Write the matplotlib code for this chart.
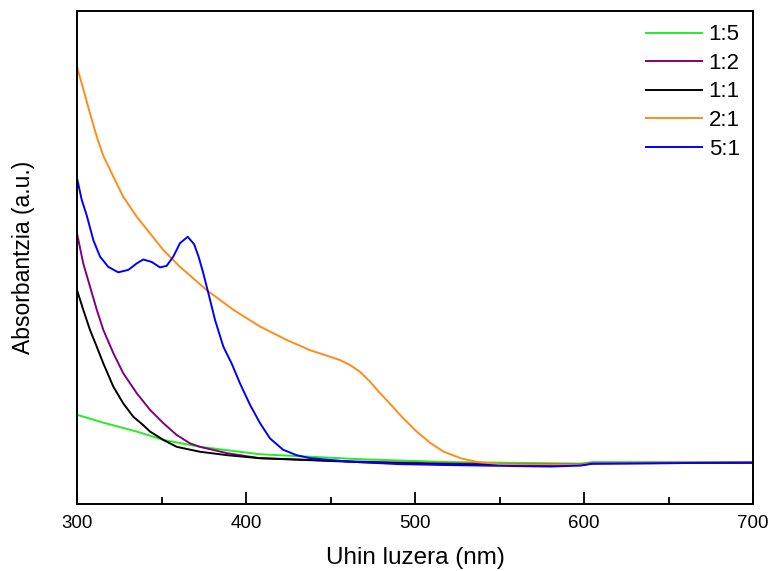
import matplotlib
matplotlib.use("Agg")
import matplotlib.pyplot as plt
from matplotlib.ticker import MultipleLocator

plt.rcParams['font.family'] = ['Liberation Sans', 'DejaVu Sans']

labels = ["1:5", "1:2", "1:1", "2:1", "5:1"]
colors = ["#22ee22", "#800080", "#000000", "#ff8c1a", "#0000ff"]

x_green = [300, 315.6, 335.3, 351.1, 372.8, 408, 467, 520, 598, 605, 700]
y_green = [0.181, 0.165, 0.147, 0.130, 0.116, 0.101, 0.091, 0.085, 0.082, 0.085, 0.085]

x_purple = [300, 303.7, 307.7, 311.7, 315.6, 321.5, 327.4, 335.3, 343.2, 351.1, 359, 366.9,
            372.8, 389, 408, 467, 520, 598, 605, 700]
y_purple = [0.549, 0.488, 0.441, 0.394, 0.353, 0.306, 0.265, 0.225, 0.191, 0.164, 0.140, 0.123,
            0.116, 0.103, 0.093, 0.086, 0.082, 0.080, 0.083, 0.084]

x_black = [300, 303.7, 307.7, 311.7, 315.6, 321.5, 327.4, 333.3, 339.2, 343.2, 351.1, 359,
           372.8, 389, 408, 467, 520, 598, 605, 700]
y_black = [0.434, 0.394, 0.353, 0.319, 0.285, 0.238, 0.204, 0.177, 0.160, 0.147, 0.130, 0.116,
           0.106, 0.099, 0.093, 0.085, 0.080, 0.079, 0.082, 0.084]

x_orange = [300, 303.7, 307.7, 311.7, 315.6, 321.5, 327.4, 335.3, 343.2, 351.1, 361, 376.7,
            392.5, 408.3, 424, 437.9, 446, 455.6, 461.5, 467.5, 473.4, 479, 485, 493, 501, 509,
            517, 527, 537, 550, 598, 605, 700]
y_orange = [0.887, 0.842, 0.792, 0.745, 0.706, 0.664, 0.623, 0.583, 0.549, 0.515, 0.481, 0.434,
            0.394, 0.360, 0.333, 0.312, 0.303, 0.292, 0.282, 0.268, 0.248, 0.226, 0.204, 0.174,
            0.147, 0.124, 0.106, 0.093, 0.085, 0.081, 0.080, 0.083, 0.085]

x_blue = [300, 302.8, 305.7, 309.7, 313.6, 318.5, 324.4, 330.4, 335.3, 339.2, 344.2, 349.1,
          353, 357, 360.9, 365.5, 369.3, 372, 374.5, 377.7, 381.7, 386.6, 391.5, 396.4, 402.4,
          408.3, 414.2, 422, 430, 437.9, 461, 490, 520, 580, 598, 605, 700]
y_blue = [0.661, 0.617, 0.586, 0.535, 0.502, 0.481, 0.470, 0.475, 0.488, 0.496, 0.491, 0.480,
          0.483, 0.502, 0.529, 0.542, 0.527, 0.501, 0.471, 0.428, 0.373, 0.319, 0.285, 0.245,
          0.201, 0.164, 0.133, 0.110, 0.099, 0.093, 0.086, 0.081, 0.079, 0.076, 0.078, 0.082,
          0.084]

xs = [x_green, x_purple, x_black, x_orange, x_blue]
ys = [y_green, y_purple, y_black, y_orange, y_blue]

fig = plt.figure(figsize=(7.7, 5.71), dpi=100)
ax = fig.add_axes([0.1, 0.1173, 0.878, 0.8634])

for x, y, c, l in zip(xs, ys, colors, labels):
    ax.plot(x, y, color=c, lw=1.4, label=l, solid_joinstyle='round')

ax.set_xlim(300, 700)
ax.set_ylim(0, 1.0)
ax.xaxis.set_major_locator(MultipleLocator(100))
ax.xaxis.set_minor_locator(MultipleLocator(50))
ax.tick_params(axis='x', which='major', direction='in', length=9, width=1.3, labelsize=13.5, pad=8)
ax.tick_params(axis='x', which='minor', direction='in', length=5, width=1.3)
ax.set_yticks([])
for s in ax.spines.values():
    s.set_linewidth(1.4)

ax.set_xlabel("Uhin luzera (nm)", fontsize=17.5, labelpad=11)
ax.set_ylabel("Absorbantzia (a.u.)", fontsize=16.5, labelpad=30)

leg = ax.legend(loc='upper right', frameon=False, fontsize=16, handlelength=2.5,
                labelspacing=0.34, borderaxespad=0.2, borderpad=0.4, handletextpad=0.3)

fig.savefig("out.png", dpi=100)
